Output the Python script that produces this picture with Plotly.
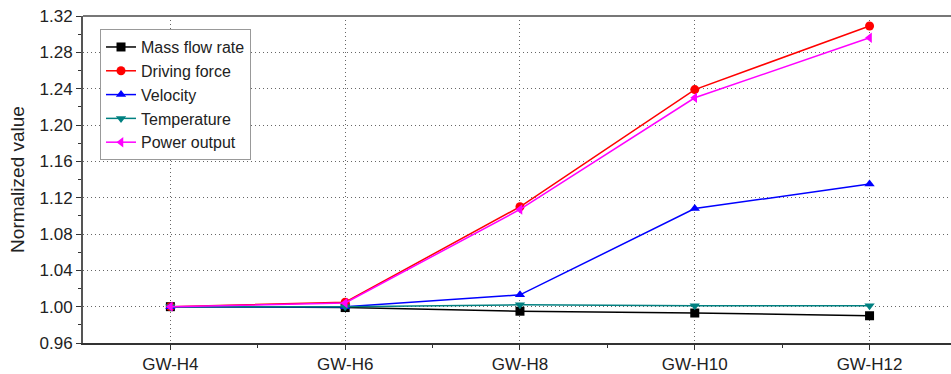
import plotly.graph_objects as go

categories = ["GW-H4", "GW-H6", "GW-H8", "GW-H10", "GW-H12"]
mass_flow = [1.000, 0.999, 0.995, 0.993, 0.990]
driving_force = [1.000, 1.005, 1.110, 1.239, 1.309]
velocity = [1.000, 1.000, 1.013, 1.108, 1.135]
temperature = [1.000, 1.000, 1.002, 1.001, 1.001]
power_output = [1.000, 1.004, 1.107, 1.230, 1.296]
y_ticks = [0.96, 1.00, 1.04, 1.08, 1.12, 1.16, 1.20, 1.24, 1.28, 1.32]

xi = list(range(len(categories)))

series = [
    ("Mass flow rate", mass_flow, "#000000", "square"),
    ("Driving force", driving_force, "#ff0000", "circle"),
    ("Velocity", velocity, "#0000ff", "triangle-up"),
    ("Temperature", temperature, "#008080", "triangle-down"),
    ("Power output", power_output, "#ff00ff", "triangle-left"),
]

fig = go.Figure()
for name, vals, color, sym in series:
    fig.add_trace(go.Scatter(
        x=xi, y=vals, name=name, mode="lines+markers",
        line=dict(color=color, width=1.5),
        marker=dict(symbol=sym, size=9, color=color),
    ))

font_family = "Liberation Sans, Arial, sans-serif"
fig.update_layout(
    width=951, height=374,
    margin=dict(l=83, r=0, t=16, b=31, autoexpand=False),
    paper_bgcolor="white", plot_bgcolor="white",
    font=dict(family=font_family, size=17, color="#222222"),
    showlegend=True,
    legend=dict(
        x=0.0196, y=0.96, xanchor="left", yanchor="top",
        bgcolor="white", bordercolor="#999999", borderwidth=1,
        font=dict(size=16, color="#222222"),
        tracegroupgap=0,
    ),
    xaxis=dict(
        range=[-0.5, 4.466],
        tickmode="array", tickvals=xi, ticktext=categories,
        showgrid=True, gridcolor="#666666", griddash="1px,3px", gridwidth=1,
        showline=True, linecolor="#333333", linewidth=1.5, mirror=False,
        ticks="outside", ticklen=5, tickcolor="#333333",
        minor=dict(tickvals=[x + 0.5 for x in xi[:-1]] + [4.5],
                   ticks="outside", ticklen=3, tickcolor="#333333", showgrid=False),
        zeroline=False,
        tickfont=dict(size=17),
        automargin=False,
    ),
    yaxis=dict(
        range=[0.96, 1.32],
        tickmode="array", tickvals=y_ticks, ticktext=[f"{v:.2f}" for v in y_ticks],
        showgrid=True, gridcolor="#666666", griddash="1px,3px", gridwidth=1,
        showline=True, linecolor="#555555", linewidth=2,
        ticks="outside", ticklen=5, tickcolor="#333333",
        minor=dict(dtick=0.02, tick0=0.96, ticks="outside", ticklen=3,
                   tickcolor="#333333", showgrid=False),
        zeroline=False,
        title=dict(text="Normalized value", font=dict(size=19), standoff=10),
        tickfont=dict(size=17),
        automargin=False,
    ),
)

# top border
fig.add_shape(type="line", xref="paper", yref="paper", x0=0, x1=1, y0=1, y1=1,
              line=dict(color="#777777", width=2))

fig.write_html("out.html", config={"displayModeBar": False},
               post_script="document.body.style.margin='0';document.body.style.overflow='hidden';")
